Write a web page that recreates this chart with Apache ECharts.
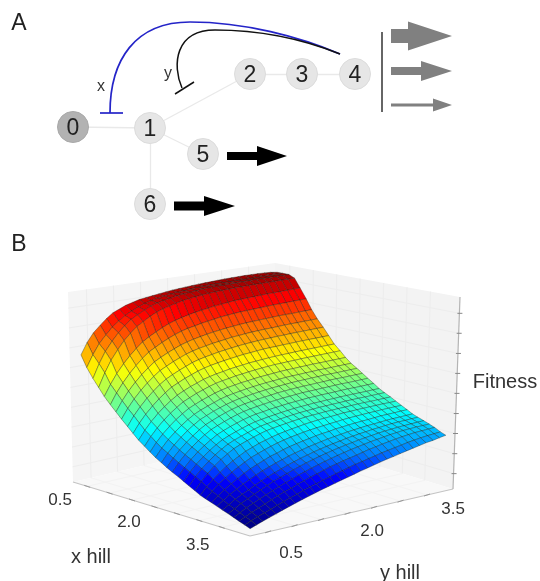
<!DOCTYPE html>
<html><head><meta charset="utf-8"><style>html,body{margin:0;padding:0;background:#fff}#c{width:540px;height:581px}</style>
<script src="https://cdn.jsdelivr.net/npm/echarts@6/dist/echarts.min.js"></script></head><body><div id="c"></div>
<script>
const nodeNames=['0','1','2','3','4','5','6'];
const links=[[0,1],[1,2],[2,3],[3,4],[1,5],[1,6]];
const xTicks=[0.5,1,1.5,2,2.5,3,3.5];
const yTicks=[0.5,1,1.5,2,2.5,3,3.5];
const labelledTicks=[0.5,2,3.5];
const zTicks=[80,184,289,393,498,602,706,811,915];
const xHill=[.30,.42,.55,.67,.79,.92,1.04,1.16,1.29,1.41,1.53,1.66,1.78,1.90,2.03,2.15,2.27,2.40,2.52,2.64,2.77,2.89,3.01,3.14,3.26,3.38,3.51,3.63,3.75,3.88,4.00];
const yHill=[.27,.39,.51,.64,.76,.88,1.00,1.12,1.25,1.37,1.49,1.61,1.73,1.86,1.98,2.10,2.22,2.34,2.47,2.59,2.71,2.83,2.95,3.08,3.20,3.32,3.44,3.56,3.69,3.81,3.93];
const fitness=[
[670,730,775,810,840,865,880,895,905,915,920,925,930,935,940,943,946,949,952,954,956,958,960,961,962,963,963,963,962,960,955],
[610,672,724,765,800,827,851,869,886,900,910,917,924,931,934,938,941,945,946,948,949,950,951,952,952,953,953,954,954,955,955],
[560,631,690,738,777,809,837,856,876,892,904,912,919,927,931,935,939,943,945,947,948,949,950,951,952,953,953,953,954,954,955],
[520,590,650,700,742,775,805,826,848,865,878,888,897,906,912,917,921,925,928,930,932,934,935,936,937,937,938,938,939,939,940],
[480,537,587,632,669,701,730,751,771,788,804,816,826,835,843,849,855,861,865,870,874,876,878,880,882,884,885,886,888,889,890],
[445,500,546,589,624,656,683,702,722,738,753,765,775,782,790,796,802,808,812,816,819,821,823,825,827,829,830,831,833,834,835],
[415,466,510,550,583,612,638,656,674,689,703,714,723,731,738,744,749,754,758,762,765,767,769,771,773,775,776,776,778,779,780],
[385,434,476,515,546,574,599,616,634,648,662,672,681,688,695,700,705,711,714,718,721,723,725,726,728,730,731,732,733,734,735],
[355,403,443,481,511,539,562,579,596,610,624,634,642,649,656,661,666,671,675,678,681,683,685,687,688,690,691,692,693,694,695],
[327,373,412,448,478,504,527,543,560,573,586,596,604,611,617,622,627,632,635,639,642,644,645,647,648,650,651,652,653,654,655],
[300,344,382,417,445,470,492,508,524,536,549,558,566,572,579,584,588,593,596,599,602,604,606,607,609,610,611,612,613,614,615],
[277,320,357,391,419,443,465,480,496,508,520,530,537,543,550,554,559,563,567,570,573,574,576,577,579,580,581,582,583,584,585],
[255,297,333,366,393,417,438,453,468,480,492,501,509,515,521,525,530,534,537,540,543,545,546,548,549,551,551,552,553,554,555],
[235,276,312,344,371,394,415,430,444,456,468,477,484,490,496,501,505,509,512,515,518,520,521,523,524,526,526,527,528,529,530],
[217,258,293,325,352,375,396,410,425,437,448,457,465,470,476,481,485,489,492,495,498,500,501,503,504,506,506,507,508,509,510],
[200,241,275,307,333,357,377,391,406,418,429,438,445,451,457,461,465,470,473,476,478,480,481,483,484,486,487,487,488,489,490],
[185,225,259,290,316,339,359,373,387,399,410,419,426,432,437,442,446,450,453,456,459,460,461,463,464,466,467,467,468,469,470],
[170,209,243,274,299,321,341,355,369,380,391,400,407,412,418,422,426,430,433,436,439,440,442,443,444,446,447,447,448,449,450],
[155,194,227,257,282,304,323,337,350,361,372,381,387,393,398,403,407,411,414,416,419,420,422,423,425,426,427,427,428,429,430],
[140,179,212,242,267,289,308,322,335,346,357,366,372,378,383,388,392,396,399,401,404,405,407,408,410,411,412,412,413,414,415],
[125,164,197,227,252,274,293,307,320,331,342,351,357,363,368,373,377,381,384,386,389,390,392,393,395,396,397,397,398,399,400],
[110,145,175,202,226,246,264,281,294,307,316,326,334,341,347,352,358,362,366,369,371,374,377,378,380,381,382,383,384,384,385],
[100,131,158,182,204,223,240,257,270,282,293,303,311,319,325,331,336,340,344,348,351,355,358,360,362,364,365,367,368,369,370],
[90,117,140,162,181,200,216,230,244,257,266,277,286,294,301,307,314,319,323,329,332,336,339,342,344,347,350,351,352,354,355],
[80,103,124,142,161,176,192,206,219,231,241,252,261,270,278,285,292,298,304,309,314,318,322,326,328,331,334,336,337,339,340],
[70,89,108,125,140,156,170,184,197,209,221,231,242,251,260,268,275,282,288,295,300,305,309,314,317,321,324,326,327,329,330],
[60,78,96,112,127,142,156,170,182,194,206,217,227,237,246,254,262,269,276,282,288,293,298,303,307,310,313,315,317,319,320],
[50,66,83,97,111,125,138,151,164,176,188,198,209,219,228,237,245,253,261,267,274,280,285,291,296,300,304,306,308,309,310],
[40,54,69,82,95,108,121,134,144,157,167,178,188,199,209,217,225,232,240,248,256,262,269,275,281,286,290,294,296,298,300],
[30,43,56,67,78,90,101,113,123,135,145,154,164,173,183,191,200,209,216,224,231,239,245,252,258,265,270,275,279,282,285],
[20,31,42,53,63,74,84,94,104,114,123,132,140,149,158,166,174,183,191,199,207,215,221,229,236,243,250,257,262,269,275]
];
// layout (not data)
const nodePos=[[73,127],[150,128],[250,74],[302,74],[355,74],[203,154],[150,204]];
const box={L:[73,482],F:[250,536],R:[453,489],B:[276,435],LT:[68,292],FT:[253,326],RT:[460,297],BT:[275,263]};
const xDomain=[0.184,4.13],yDomain=[0.159,3.99],zDomain=[0,1000];
const jet=['#00007f','#0000ff','#007fff','#00ffff','#7fff7f','#ffff00','#ff7f00','#ff0000','#7f0000'];
const colourZ=[20,170,240,370,985],colourC=[0,.125,.25,.4,1];
const lm=echarts.number.linearMap;
function colourOf(z){
  let i=0;while(i<colourZ.length-2&&z>colourZ[i+1])i++;
  return echarts.color.lerp(Math.min(1,Math.max(0,lm(z,[colourZ[i],colourZ[i+1]],[colourC[i],colourC[i+1]]))),jet);
}
function project(x,y,z){
  const a=lm(x,xDomain,[0,1]),b=lm(y,yDomain,[0,1]),c=lm(z,zDomain,[0,1]);
  const bl=(p,q,r,s,i)=>(1-a)*(1-b)*p[i]+a*(1-b)*q[i]+a*b*r[i]+(1-a)*b*s[i];
  return [0,1].map(i=>(1-c)*bl(box.L,box.F,box.R,box.B,i)+c*bl(box.LT,box.FT,box.RT,box.BT,i));
}
const xE=xDomain,yE=yDomain;
function poly(pts,fill){return {type:'polygon',silent:true,shape:{points:pts},style:{fill:fill,stroke:null}};}
function seg(p,q,c,w){return {type:'line',silent:true,shape:{x1:p[0],y1:p[1],x2:q[0],y2:q[1]},style:{stroke:c,lineWidth:w}};}
function label(t,p){return {type:'text',silent:true,style:{text:t,x:p[0],y:p[1],fill:'#333',font:'17px "Liberation Sans"',textAlign:'center',textVerticalAlign:'middle'}};}
function renderBox(){
  const ch=[];
  const P=project;
  ch.push(poly([P(xE[0],yE[0],0),P(xE[0],yE[1],0),P(xE[0],yE[1],1000),P(xE[0],yE[0],1000)],'#f5f5f5'));
  ch.push(poly([P(xE[0],yE[1],0),P(xE[1],yE[1],0),P(xE[1],yE[1],1000),P(xE[0],yE[1],1000)],'#f3f3f3'));
  ch.push(poly([P(xE[0],yE[0],0),P(xE[1],yE[0],0),P(xE[1],yE[1],0),P(xE[0],yE[1],0)],'#f8f8f8'));
  const g='#ededed',gf='#f3f3f3';
  xTicks.forEach(x=>{ch.push(seg(P(x,yE[0],0),P(x,yE[1],0),gf,1));ch.push(seg(P(x,yE[1],0),P(x,yE[1],1000),g,1));});
  yTicks.forEach(y=>{ch.push(seg(P(xE[0],y,0),P(xE[1],y,0),gf,1));ch.push(seg(P(xE[0],y,0),P(xE[0],y,1000),g,1));});
  zTicks.forEach(z=>{ch.push(seg(P(xE[0],yE[0],z),P(xE[0],yE[1],z),g,1));ch.push(seg(P(xE[0],yE[1],z),P(xE[1],yE[1],z),g,1));});
  ch.push(seg(P(xE[0],yE[0],0),P(xE[1],yE[0],0),'#c4c4c4',1.2));
  ch.push(seg(P(xE[1],yE[0],0),P(xE[1],yE[1],0),'#c4c4c4',1.2));
  ch.push(seg(P(xE[1],yE[1],0),P(xE[1],yE[1],1000),'#b4b4b4',1.2));
  xTicks.forEach(x=>{const p=P(x,yE[0],0);ch.push(seg([p[0]-3,p[1]-1],[p[0]+3,p[1]+1],'#999',1));
    if(labelledTicks.includes(x))ch.push(label(x.toFixed(1),[p[0]-27+(x-.5),p[1]+14+(x-.5)*1.3]));});
  yTicks.forEach(y=>{const p=P(xE[1],y,0);ch.push(seg([p[0]-3,p[1]+1],[p[0]+3,p[1]-1],'#999',1));
    if(labelledTicks.includes(y))ch.push(label(y.toFixed(1),[p[0]+23+(y-.5),p[1]+21-(y-.5)*2.3]));});
  zTicks.forEach(z=>{const p=P(xE[1],yE[1],z);ch.push(seg([p[0]-2,p[1]],[p[0]+3,p[1]],'#888',1));});
  return {type:'group',children:ch};
}
const cells=[];
for(let u=0;u<xHill.length-1;u++)for(let v=yHill.length-2;v>=0;v--)cells.push([u,v]);
function renderCell(params,api){
  const u=api.value(0),v=api.value(1);
  const zs=[fitness[u][v],fitness[u+1][v],fitness[u+1][v+1],fitness[u][v+1]];
  const pts=[project(xHill[u],yHill[v],zs[0]),project(xHill[u+1],yHill[v],zs[1]),project(xHill[u+1],yHill[v+1],zs[2]),project(xHill[u],yHill[v+1],zs[3])];
  const m=(zs[0]+zs[1]+zs[2]+zs[3])/4;
  return {type:'polygon',silent:true,shape:{points:pts},style:{fill:colourOf(m),stroke:'rgba(20,30,20,0.5)',lineWidth:0.7}};
}
const tx=(t,x,y,size,fill,align)=>({type:'text',silent:true,z:20,style:{text:t,x:x,y:y,fill:fill||'#333',font:size+'px "Liberation Sans"',textAlign:align||'center',textVerticalAlign:'middle'}});
const bez=(a,b,c,d,col,w)=>({type:'bezierCurve',silent:true,z:9,shape:{x1:a[0],y1:a[1],cpx1:b[0],cpy1:b[1],cpx2:c[0],cpy2:c[1],x2:d[0],y2:d[1]},style:{stroke:col,lineWidth:w,fill:null}});
const ln=(a,b,col,w)=>({type:'line',silent:true,z:9,shape:{x1:a[0],y1:a[1],x2:b[0],y2:b[1]},style:{stroke:col,lineWidth:w}});
const arrow=(x0,xh,xt,yc,sh,hh,col)=>({type:'polygon',silent:true,z:9,shape:{points:[[x0,yc-sh],[xh,yc-sh],[xh,yc-hh],[xt,yc],[xh,yc+hh],[xh,yc+sh],[x0,yc+sh]]},style:{fill:col}});
const chart=echarts.init(document.getElementById('c'),null,{renderer:'canvas'});
chart.setOption({
  animation:false,backgroundColor:'#fff',
  grid:{left:0,right:0,top:0,bottom:0},
  xAxis:{type:'value',min:0,max:540,show:false},
  yAxis:{type:'value',min:0,max:581,inverse:true,show:false},
  series:[
   {type:'graph',coordinateSystem:'cartesian2d',layout:'none',silent:true,symbolSize:31,
    data:nodeNames.map((n,i)=>({name:n,value:nodePos[i],itemStyle:i===0?{color:'#b2b2b2',borderColor:'#a9a9a9',borderWidth:1}:{color:'#e6e6e6',borderColor:'#dcdcdc',borderWidth:1}})),
    links:links.map(l=>({source:l[0],target:l[1]})),
    lineStyle:{color:'#e9e9e9',width:1.3,opacity:1},
    label:{show:true,position:'inside',offset:[0,1.5],formatter:'{b}',fontSize:23,color:'#222',fontFamily:'Liberation Sans'}},
   {type:'custom',coordinateSystem:'none',silent:true,data:[0],renderItem:renderBox,z:2},
   {type:'custom',coordinateSystem:'none',silent:true,data:cells,renderItem:renderCell,z:3,clip:false}
  ],
  graphic:[
   tx('A',19,24,23,'#222'),tx('B',19,245,23,'#222'),
   tx('x',101,87,16),tx('y',168,74,16),
   bez([110,113],[110,60],[135,22],[190,22],'#2424c8',1.7),
   bez([190,22],[245,22],[300,37],[340,54],'#2424c8',1.7),
   ln([100,113],[123,113],'#2424c8',1.7),
   bez([182,88],[172,65],[175,30],[215,30],'#111',1.5),
   bez([215,30],[260,30],[300,38],[340,54],'#111',1.5),
   ln([175,94],[194,82],'#111',1.5),
   arrow(227,257,287,156,4,10,'#000'),
   arrow(174,204,235,206,4.5,10,'#000'),
   arrow(391,408,452,36,7,14.5,'#808080'),
   arrow(391,421,452,71,4,10,'#808080'),
   arrow(391,433,452,105,1.5,6.5,'#808080'),
   ln([382,32],[382,112],'#333',1.5),
   tx('x hill',91,557,20),tx('y hill',400,573,20),tx('Fitness',505,382,20)
  ]
});
</script></body></html>
